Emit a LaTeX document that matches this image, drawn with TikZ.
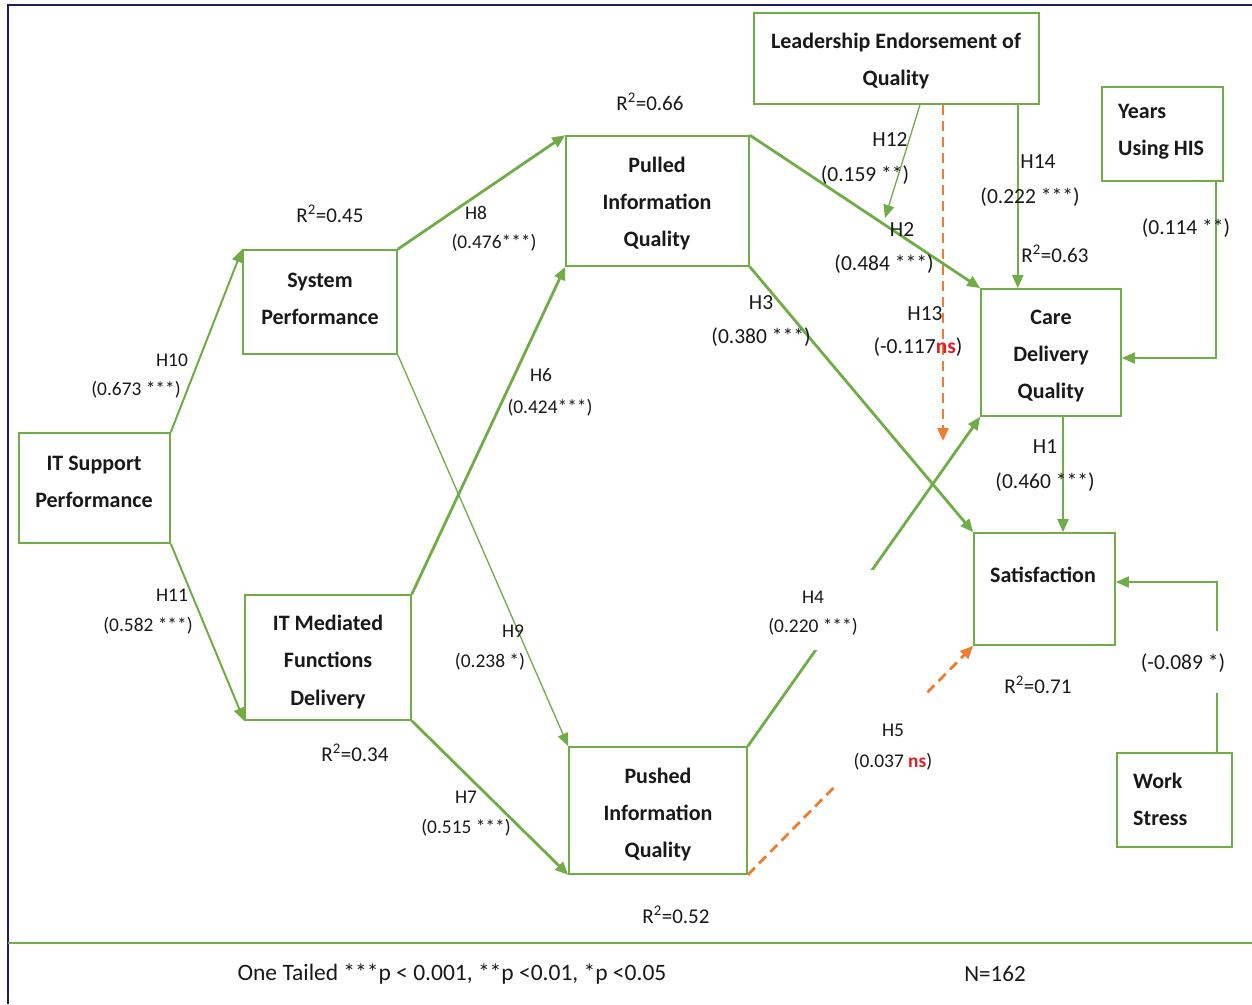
\documentclass[tikz,border=0pt]{standalone}
\usepackage{fontspec}
\setmainfont{Carlito}
\usetikzlibrary{arrows.meta}
\definecolor{grn}{RGB}{112,173,71}
\definecolor{org}{RGB}{237,125,49}
\definecolor{nsred}{RGB}{222,32,40}
\definecolor{navy}{RGB}{28,28,105}
\definecolor{ink}{RGB}{25,25,25}
\newcommand{\ns}{\textcolor{nsred}{\bfseries ns}}
\newcommand{\rsq}[1]{R\textsuperscript{2}=#1}
\begin{document}
\begin{tikzpicture}[x=1pt,y=-1pt,
  box/.style={draw=grn,line width=1.6pt,inner sep=0pt},
  boxtext/.style={font=\bfseries\fontsize{22}{37}\selectfont,text=ink,align=center,inner sep=0pt},
  lbls/.style={font=\fontsize{19.4}{30}\selectfont,text=ink,inner sep=0pt},
  lblb/.style={font=\fontsize{21.5}{30}\selectfont,text=ink,inner sep=0pt},
  rlab/.style={font=\fontsize{21}{26}\selectfont,text=ink,inner sep=0pt},
  gap/.style={fill=white,draw=none,inner sep=0pt},
  tip/.style={-{Triangle[length=13pt,width=11pt]}},
  thick link/.style={draw=grn,line width=2.8pt,tip},
  mid link/.style={draw=grn,line width=2pt,tip},
  thin link/.style={draw=grn,line width=1.3pt,tip},
  plain link/.style={draw=grn,line width=1.7pt},
  ns link/.style={draw=org,line width=2.8pt,dash pattern=on 10pt off 6pt,tip},
]
\useasboundingbox (0,0) rectangle (1252,1004);
\fill[white] (0,0) rectangle (1252,1004);

% outer frame and footer rule
\draw[navy,line width=2pt] (8,1004) -- (8,5) -- (1252,5);
\draw[grn,line width=1.8pt] (8,943) -- (1252,943);

% construct boxes
\node[box,minimum width=285pt,minimum height=91pt]  (lead)   at (896.5,58.5) {};
\node[box,minimum width=121pt,minimum height=94pt]  (years)  at (1162.5,134) {};
\node[box,minimum width=183pt,minimum height=130pt] (pulled) at (657.5,201) {};
\node[box,minimum width=154pt,minimum height=104pt] (sys)    at (320,302) {};
\node[box,minimum width=151pt,minimum height=110pt] (itsup)  at (94.5,488) {};
\node[box,minimum width=166pt,minimum height=125pt] (itmed)  at (328,657.5) {};
\node[box,minimum width=140pt,minimum height=127pt] (care)   at (1051,352.5) {};
\node[box,minimum width=141pt,minimum height=112pt] (satis)  at (1044.5,589) {};
\node[box,minimum width=178pt,minimum height=127pt] (pushed) at (658,810.5) {};
\node[box,minimum width=115pt,minimum height=94pt]  (work)   at (1174.5,800) {};

% box titles
\node[boxtext] (leadT)   at (896,61) {Leadership Endorsement of\\Quality};
\node[boxtext,align=left,anchor=west] (yearsT) at (1118,132) {Years\\Using HIS};
\node[boxtext] (pulledT) at (657,204) {Pulled\\Information\\Quality};
\node[boxtext] (sysT)    at (320,299) {System\\Performance};
\node[boxtext] (itsupT)  at (94,482) {IT Support\\Performance};
\node[boxtext] (itmedT)  at (328,662) {IT Mediated\\Functions\\Delivery};
\node[boxtext] (careT)   at (1051,356) {Care\\Delivery\\Quality};
\node[boxtext] (satisT)  at (1043,575) {Satisfaction};
\node[boxtext] (pushedT) at (658,814) {Pushed\\Information\\Quality};
\node[boxtext,align=left,anchor=west] (workT) at (1133,799) {Work\\Stress};

% end points on other paths
\coordinate (m12) at (885,218);
\coordinate (m13) at (943,441);

% structural paths
\draw[mid link]   (itsup.north east) -- (sys.north west);
\draw[mid link]   (itsup.south east) -- (itmed.south west);
\draw[thick link] (sys.north east) -- (pulled.north west);
\draw[thick link] (itmed.north east) -- (pulled.south west);
\draw[thin link]  (sys.south east) -- (pushed.north west);
\draw[thick link] (itmed.south east) -- (pushed.south west);
\draw[thick link] (pulled.north east) -- (care.north west);
\draw[thick link] (pulled.south east) -- (satis.north west);
\draw[thick link] (pushed.north east) -- (care.south west);
\draw[ns link]    (pushed.south east) -- (satis.south west);
\draw[mid link]   ([xshift=12pt]care.south) -- ([xshift=12pt]care.south |- satis.north);
\draw[thin link]  ([xshift=23.5pt]lead.south) -- (m12);
\draw[ns link]    ([xshift=46.5pt]lead.south) -- (m13);
\draw[mid link]   ([xshift=-22pt]lead.south east) -- ([xshift=-22pt]lead.south east |- care.north);
\draw[plain link,tip] ([xshift=-8pt]years.south east) |- ([yshift=-5.5pt]care.east);
\draw[plain link,tip] ([xshift=-16pt]work.north east) |- ([yshift=7pt]satis.east);

% white breaks behind some coefficients
\node[gap,minimum width=111pt,minimum height=80pt] (gap4)  at (820.5,610) {};
\node[gap,minimum width=105pt,minimum height=90pt] (gap5)  at (882.5,740) {};
\node[gap,minimum width=90pt,minimum height=62pt]  (gapws) at (1185,662) {};

% path coefficients
\node[lbls] (h10a) at (172,360) {H10};
\node[lbls] (h10b) at (136,390) {(0.673 ***)};
\node[lbls] (h11a) at (172,595) {H11};
\node[lbls] (h11b) at (148,626) {(0.582 ***)};
\node[lbls] (h8a)  at (476,213) {H8};
\node[lbls] (h8b)  at (494,243) {(0.476***)};
\node[lbls] (h6a)  at (541,375) {H6};
\node[lbls] (h6b)  at (550,408) {(0.424***)};
\node[lbls] (h9a)  at (513,631) {H9};
\node[lbls] (h9b)  at (490,662) {(0.238 *)};
\node[lbls] (h7a)  at (466,797) {H7};
\node[lbls] (h7b)  at (466,828) {(0.515 ***)};
\node[lbls] (h4a)  at (813,597) {H4};
\node[lbls] (h4b)  at (813,627) {(0.220 ***)};
\node[lbls] (h5a)  at (893,730) {H5};
\node[lbls] (h5b)  at (893,762) {(0.037 \ns)};
\node[lblb] (h3a)  at (761,303) {H3};
\node[lblb] (h3b)  at (761,337) {(0.380 ***)};
\node[lblb] (h2a)  at (902,230) {H2};
\node[lblb] (h2b)  at (884,264) {(0.484 ***)};
\node[lblb] (h12a) at (890,140) {H12};
\node[lblb] (h12b) at (865,175) {(0.159 **)};
\node[lblb] (h14a) at (1038,162) {H14};
\node[lblb] (h14b) at (1030,197) {(0.222 ***)};
\node[lblb] (h13a) at (925,314) {H13};
\node[lblb] (h13b) at (918,347) {(-0.117\ns)};
\node[lblb] (h1a)  at (1045,447) {H1};
\node[lblb] (h1b)  at (1045,482) {(0.460 ***)};
\node[lblb] (cyrs) at (1186,228) {(0.114 **)};
\node[lblb] (cws)  at (1183,663) {(-0.089 *)};

% explained variance
\node[rlab] (r45) at (330,214) {\rsq{0.45}};
\node[rlab] (r66) at (650,102) {\rsq{0.66}};
\node[rlab] (r63) at (1055,254) {\rsq{0.63}};
\node[rlab] (r34) at (355,753) {\rsq{0.34}};
\node[rlab] (r52) at (676,915) {\rsq{0.52}};
\node[rlab] (r71) at (1038,685) {\rsq{0.71}};

% footer
\node[font=\fontsize{23.5}{30}\selectfont,text=ink,inner sep=0pt] (note) at (452,974) {One Tailed ***p < 0.001, **p <0.01, *p <0.05};
\node[font=\fontsize{23}{30}\selectfont,text=ink,inner sep=0pt] (nobs) at (995,974) {N=162};
\end{tikzpicture}
\end{document}
